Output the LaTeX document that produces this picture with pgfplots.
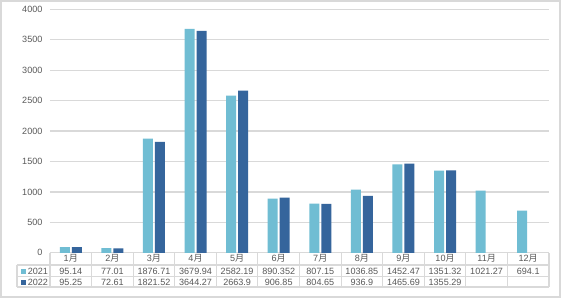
\documentclass[border=0pt]{standalone}
\usepackage{pgfplots}
\pgfplotsset{compat=1.18}
\usepackage{fontspec}
\setmainfont{Liberation Sans}
\newfontfamily\cjk{Noto Sans CJK SC}
\definecolor{cA}{HTML}{70BDD3}
\definecolor{cB}{HTML}{35659C}
\definecolor{gridc}{HTML}{D9D9D9}
\definecolor{txt}{HTML}{595959}
\begin{document}
\begin{tikzpicture}
\begin{scope}[xshift=-37.5pt, yshift=189.6pt, x=0.75pt, y=-0.75pt]
\fill[white] (0,0) rectangle (561,298);
\draw[gridc, line width=0.9pt] (1,1) rectangle (560,297);
\end{scope}
\begin{axis}[at={(0,0)}, anchor=south west, scale only axis,
  width=374.25pt, height=182.6pt,
  xmin=-0.5, xmax=11.5, ymin=0, ymax=4000,
  ytick={0,500,...,4000}, xtick=\empty,
  ymajorgrids, grid style={gridc, line width=0.9pt},
  axis line style={draw=none}, major tick length=0pt,
  ybar=1.5pt, bar width=7.5pt,
  yticklabel style={font=\fontsize{6.8}{8}\selectfont, text=txt, inner sep=0pt, xshift=-5.5pt},
  /pgf/number format/assume math mode=true,
  /pgf/number format/1000 sep={},
  clip=false]
\addplot[fill=cA, draw=none] coordinates {(0,95.14) (1,77.01) (2,1876.71) (3,3679.94) (4,2582.19) (5,890.352) (6,807.15) (7,1036.85) (8,1452.47) (9,1351.32) (10,1021.27) (11,694.1)};
\addplot[fill=cB, draw=none] coordinates {(0,95.25) (1,72.61) (2,1821.52) (3,3644.27) (4,2663.9) (5,906.85) (6,804.65) (7,936.9) (8,1465.69) (9,1355.29)};
\end{axis}
\begin{scope}[xshift=-37.5pt, yshift=189.6pt, x=0.75pt, y=-0.75pt]
\draw[gridc, line width=0.8pt] (17,265) -- (549,265);
\draw[gridc, line width=0.8pt] (17,276.7) -- (549,276.7);
\draw[gridc, line width=0.8pt] (17,287) -- (549,287);
\draw[gridc, line width=0.8pt] (17,265) -- (17,287);
\foreach \k in {0,...,12} \draw[gridc, line width=0.8pt] ({50+41.583*\k},253) -- ({50+41.583*\k},287);
\begin{scope}[every node/.style={font=\fontsize{6.8}{8}\selectfont, text=txt, inner sep=0pt}]
\foreach \i in {1,...,12} \node at ({50+41.583*(\i-0.5)},258.3) {\i{\cjk 月}};
\foreach \v [count=\i from 0] in {95.14,77.01,1876.71,3679.94,2582.19,890.352,807.15,1036.85,1452.47,1351.32,1021.27,694.1}
  \node at ({50+41.583*(\i+0.5)},271.3) {\v};
\foreach \v [count=\i from 0] in {95.25,72.61,1821.52,3644.27,2663.9,906.85,804.65,936.9,1465.69,1355.29}
  \node at ({50+41.583*(\i+0.5)},282.2) {\v};
\fill[cA] (21.5,269) rectangle (26.5,274);
\fill[cB] (21.5,279.8) rectangle (26.5,284.8);
\node[anchor=west] at (27.5,271.3) {2021};
\node[anchor=west] at (27.5,282.2) {2022};
\end{scope}
\end{scope}
\end{tikzpicture}
\end{document}
